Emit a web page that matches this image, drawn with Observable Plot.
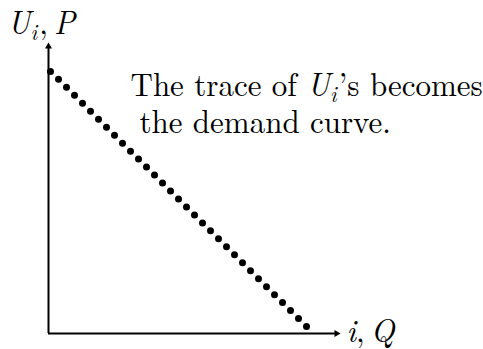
<!DOCTYPE html>
<html>
<head>
<meta charset="utf-8">
<script src="https://cdn.jsdelivr.net/npm/d3@7"></script>
<script src="https://cdn.jsdelivr.net/npm/@observablehq/plot@0.6"></script>
<style>
  html, body { margin: 0; padding: 0; background: white; }
</style>
</head>
<body>
<div id="chart"></div>
<script>
// Data: position i (quantity Q) and reservation value U_i (price P) of each dot
const quantity = [1, 2, 3, 4, 5, 6, 7, 8, 9, 10, 11, 12, 13, 14, 15, 16, 17,
                  18, 19, 20, 21, 22, 23, 24, 25, 26, 27, 28, 29, 30, 31, 32, 33];
const value    = [33, 32, 31, 30, 29, 28, 27, 26, 25, 24, 23, 22, 21, 20, 19, 18, 17,
                  16, 15, 14, 13, 12, 11, 10, 9, 8, 7, 6, 5, 4, 3, 2, 1];

// Texts ($...$ marks math: italic letters, _ for subscript)
const yLabel = "$U_i, P$";
const xLabel = "$i, Q$";
const noteLines = ["The trace of $U_i$\u2019s becomes", "the demand curve."];

// Axis extents
const xDomain = [0.75, 37.25];
const yDomain = [0.125, 36.625];

const points = quantity.map((q, k) => ({q, u: value[k]}));

const FONT = 31;
const STRETCH = 1.07;

const chart = Plot.plot({
  width: 483,
  height: 349,
  marginLeft: 48,
  marginRight: 143,
  marginTop: 42,
  marginBottom: 16,
  x: {domain: xDomain, axis: null},
  y: {domain: yDomain, axis: null},
  style: {fontFamily: "'Latin Modern Roman', 'CMU Serif', 'Liberation Serif', serif", fontSize: FONT + "px", background: "white", color: "black"},
  marks: [
    // axes
    Plot.ruleY([yDomain[0]], {x1: xDomain[0], x2: xDomain[1] - 0.6, stroke: "black", strokeWidth: 2}),
    Plot.ruleX([xDomain[0]], {y1: yDomain[0], y2: yDomain[1] - 0.6, stroke: "black", strokeWidth: 2}),
    // arrowheads
    Plot.dot([xDomain[0]], {x: d => d, y: yDomain[1], symbol: "triangle", r: 2.6, fill: "black", stroke: "none", dy: 4}),
    Plot.dot([yDomain[0]], {x: xDomain[1], y: d => d, symbol: "triangle", r: 2.6, fill: "black", stroke: "none", rotate: 90, dx: -4}),
    // the dotted trace
    Plot.dot(points, {x: "q", y: "u", r: 3.5, fill: "black", stroke: "none"}),
    // labels
    Plot.text([yLabel], {text: d => d, frameAnchor: "top-left", textAnchor: "start", lineAnchor: "bottom", dx: -41, dy: -9}),
    Plot.text([xLabel], {text: d => d, frameAnchor: "bottom-right", textAnchor: "start", lineAnchor: "bottom", dx: 6, dy: 8}),
    Plot.text([noteLines[0]], {text: d => d, frameAnchor: "top-left", textAnchor: "start", lineAnchor: "bottom", dx: 82, dy: 53}),
    Plot.text([noteLines[1]], {text: d => d, frameAnchor: "top-left", textAnchor: "start", lineAnchor: "bottom", dx: 91, dy: 90})
  ]
});

// Minimal TeX-like typesetting of the $...$ segments
function typeset(el, src) {
  const sel = d3.select(el);
  sel.text(null);
  const shift = Math.round(FONT * 0.2);
  let pending = 0, afterSub = false;
  const add = (txt, italic, sub) => {
    const t = sel.append("tspan").text(txt);
    if (italic) t.attr("font-style", "italic");
    let dy = pending;
    pending = 0;
    if (afterSub) { t.attr("dx", 2); afterSub = false; }
    if (sub) { t.attr("font-size", "70%"); dy += shift; pending = -shift; afterSub = true; }
    if (dy) t.attr("dy", dy);
  };
  src.split("$").forEach((part, k) => {
    if (!part) return;
    if (k % 2 === 0) { add(part, false, false); return; }
    for (let j = 0; j < part.length; j++) {
      const c = part[j];
      if (c === "_") { add(part[++j], /[A-Za-z]/.test(part[j]), true); continue; }
      add(c === " " ? "\u2009" : c, /[A-Za-z]/.test(c), false);
    }
  });
  if (pending) add("\u200b", false, false);
}

d3.select(chart).selectAll("text").each(function () {
  const s = this.textContent;
  if (s.includes("$")) typeset(this, s);
  const tr = this.getAttribute("transform") || "";
  this.setAttribute("transform", (tr + ` scale(1,${STRETCH})`).trim());
});

document.getElementById("chart").appendChild(chart);
</script>
</body>
</html>
